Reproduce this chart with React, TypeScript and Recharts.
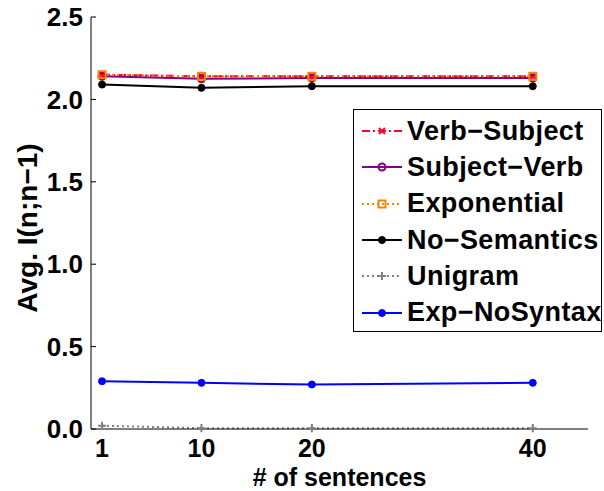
import React from "react";
import { LineChart, Line, XAxis, YAxis, Label } from "recharts";

const sentences = [1, 10, 20, 40];
const verbSubject = [2.15, 2.14, 2.14, 2.14];
const subjectVerb = [2.14, 2.125, 2.13, 2.13];
const exponential = [2.15, 2.14, 2.14, 2.14];
const noSemantics = [2.09, 2.07, 2.08, 2.08];
const unigram = [0.02, 0.005, 0.005, 0.005];
const expNoSyntax = [0.29, 0.28, 0.27, 0.28];

const xTicks = [1, 10, 20, 40];
const yTicks = [0, 0.5, 1, 1.5, 2, 2.5];

const data = sentences.map((n, i) => ({
  n,
  verbSubject: verbSubject[i],
  subjectVerb: subjectVerb[i],
  exponential: exponential[i],
  noSemantics: noSemantics[i],
  unigram: unigram[i],
  expNoSyntax: expNoSyntax[i],
}));

const FONT = '"Liberation Sans", Arial, sans-serif';

type MarkerKind = "x" | "circle" | "square" | "dot" | "plus";

function Marker({ kind, cx, cy, color }: { kind: MarkerKind; cx: number; cy: number; color: string }) {
  if (kind === "x")
    return (
      <path
        d={`M${cx - 3},${cy - 3}L${cx + 3},${cy + 3}M${cx - 3},${cy + 3}L${cx + 3},${cy - 3}`}
        stroke={color}
        strokeWidth={2}
      />
    );
  if (kind === "circle")
    return <circle cx={cx} cy={cy} r={3.5} fill="none" stroke={color} strokeWidth={2} />;
  if (kind === "square")
    return <rect x={cx - 3.5} y={cy - 3.5} width={7} height={7} fill="none" stroke={color} strokeWidth={2} />;
  if (kind === "plus")
    return (
      <path
        d={`M${cx - 4},${cy}L${cx + 4},${cy}M${cx},${cy - 4}L${cx},${cy + 4}`}
        stroke={color}
        strokeWidth={2}
      />
    );
  return <circle cx={cx} cy={cy} r={3.5} fill={color} stroke={color} />;
}

const series: {
  key: string;
  name: string;
  color: string;
  dash?: string;
  marker: MarkerKind;
}[] = [
  { key: "verbSubject", name: "Verb\u2212Subject", color: "#ff0033", dash: "8 3 2 3", marker: "x" },
  { key: "subjectVerb", name: "Subject\u2212Verb", color: "#800080", marker: "circle" },
  { key: "exponential", name: "Exponential", color: "#ff8000", dash: "2 3", marker: "square" },
  { key: "noSemantics", name: "No\u2212Semantics", color: "#000000", marker: "dot" },
  { key: "unigram", name: "Unigram", color: "#808080", dash: "2 3", marker: "plus" },
  { key: "expNoSyntax", name: "Exp\u2212NoSyntax", color: "#0000ff", marker: "dot" },
];

// legend drawn as an overlay so it doesn't eat into the plot area
function LegendBox() {
  return (
    <div
      style={{
        position: "absolute",
        left: 353,
        top: 109,
        width: 249,
        height: 223,
        border: "1px solid #000",
        background: "#fff",
        boxSizing: "border-box",
        paddingTop: 3,
        fontFamily: FONT,
        fontWeight: "bold",
        fontSize: 27,
        letterSpacing: 0.4,
        overflow: "hidden",
      }}
    >
      {series.map((s) => (
        <div key={s.key} style={{ display: "flex", alignItems: "center", height: 36.3 }}>
          <svg width={52} height={20} style={{ flex: "none" }}>
            <line x1={8} y1={10} x2={48} y2={10} stroke={s.color} strokeWidth={2} strokeDasharray={s.dash} />
            <Marker kind={s.marker} cx={28} cy={10} color={s.color} />
          </svg>
          <span style={{ marginLeft: 1, whiteSpace: "nowrap", color: "#000" }}>{s.name}</span>
        </div>
      ))}
    </div>
  );
}

export default function App() {
  return (
    <div style={{ position: "absolute", left: 0, top: 0, width: 604, height: 491, background: "#fff" }}>
      <LineChart width={604} height={491} data={data} margin={{ top: 17, right: 16, bottom: 0, left: 0 }}>
        <XAxis
          dataKey="n"
          type="number"
          domain={[0, 45]}
          ticks={xTicks}
          height={62}
          stroke="#000"
          tickSize={-5}
          tickMargin={15}
          tick={{ fill: "#000", fontSize: 25, fontWeight: "bold", fontFamily: FONT }}
        >
          <Label
            content={({ viewBox }: any) => (
              <text
                x={viewBox.x + viewBox.width / 2}
                y={viewBox.y + 57}
                textAnchor="middle"
                fontFamily={FONT}
                fontWeight="bold"
                fontSize={25}
                fill="#000"
              >
                # of sentences
              </text>
            )}
          />
        </XAxis>
        <YAxis
          type="number"
          domain={[0, 2.5]}
          ticks={yTicks}
          width={91}
          stroke="#000"
          tickSize={-5}
          tickMargin={13}
          tickFormatter={(v: number) => v.toFixed(1)}
          tick={{ fill: "#000", fontSize: 26, fontWeight: "bold", fontFamily: FONT }}
        >
          <Label
            content={() => (
              <text
                x={37}
                y={228}
                transform="rotate(-90 37 228)"
                textAnchor="middle"
                fontFamily={FONT}
                fontWeight="bold"
                fontSize={28}
                fill="#000"
              >
                Avg. I(n;n{"\u2212"}1)
              </text>
            )}
          />
        </YAxis>
        {series.map((s) => (
          <Line
            key={s.key}
            dataKey={s.key}
            name={s.name}
            type="linear"
            stroke={s.color}
            strokeWidth={2}
            strokeDasharray={s.dash}
            isAnimationActive={false}
            dot={(p: any) => <Marker key={`${s.key}-${p.index}`} kind={s.marker} cx={p.cx} cy={p.cy} color={s.color} />}
            activeDot={false}
          />
        ))}
      </LineChart>
      <LegendBox />
    </div>
  );
}
